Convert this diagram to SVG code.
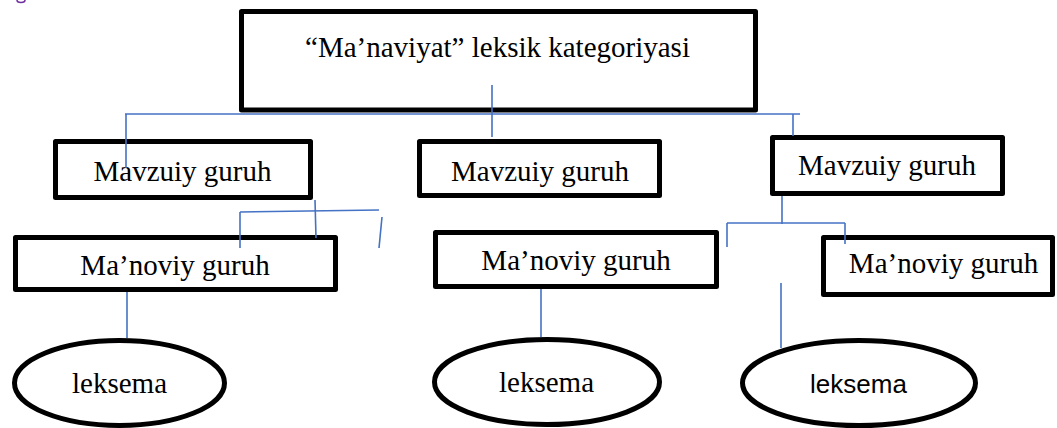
<svg xmlns="http://www.w3.org/2000/svg" width="1057" height="428" viewBox="0 0 1057 428">
<style>
.box{fill:#fff;stroke:#000;stroke-width:5;stroke-linejoin:round}
.t{font-family:"Liberation Serif","Times New Roman",serif;font-size:29px;fill:#000;text-anchor:middle}
.ts{font-family:"Liberation Sans",Arial,sans-serif;font-size:26px;fill:#000;text-anchor:middle}
.c line{stroke:#4472C4;stroke-width:1.6;fill:none}
</style>
<rect x="0" y="0" width="1057" height="428" fill="#fff"/>
<ellipse cx="21" cy="0" rx="4" ry="2.5" fill="none" stroke="#7030A0" stroke-width="1.6"/>
<g id="root"><rect class="box" x="241.5" y="11.5" width="514" height="98.5"/><text class="t" x="497.5" y="57">“Ma’naviyat” leksik kategoriyasi</text></g>
<g id="mavzuiy1"><rect class="box" x="55.5" y="141.5" width="255" height="56"/><text class="t" x="182.5" y="181">Mavzuiy guruh</text></g>
<g id="mavzuiy2"><rect class="box" x="419.5" y="141.5" width="240" height="54"/><text class="t" x="540" y="181">Mavzuiy guruh</text></g>
<g id="mavzuiy3"><rect class="box" x="772.5" y="137.5" width="230" height="56"/><text class="t" x="887" y="175">Mavzuiy guruh</text></g>
<g id="manoviy1"><rect class="box" x="15.5" y="237.5" width="320" height="52"/><text class="t" x="175" y="275">Ma’noviy guruh</text></g>
<g id="manoviy2"><rect class="box" x="435.5" y="232.5" width="281" height="54"/><text class="t" x="576" y="270">Ma’noviy guruh</text></g>
<g id="manoviy3"><rect class="box" x="823.5" y="237.5" width="229" height="57"/><text class="t" x="943.5" y="273">Ma’noviy guruh</text></g>
<g id="leksema1"><ellipse class="box" cx="119.5" cy="383" rx="105" ry="42.5"/><text class="t" x="119.5" y="393">leksema</text></g>
<g id="leksema2"><ellipse class="box" cx="547" cy="382" rx="112.5" ry="42.5"/><text class="t" x="546.5" y="392">leksema</text></g>
<g id="leksema3"><ellipse class="box" cx="859" cy="383" rx="116.5" ry="42.5"/><text class="ts" x="858.5" y="393">leksema</text></g>
<g id="connectors" class="c">
<line x1="125" y1="114" x2="800" y2="114"/>
<line x1="126" y1="114" x2="126" y2="168"/>
<line x1="492" y1="85" x2="492" y2="137"/>
<line x1="793" y1="114" x2="793" y2="136"/>
<line x1="315" y1="200" x2="316" y2="238"/>
<line x1="240" y1="212" x2="379" y2="210"/>
<line x1="240" y1="212" x2="240" y2="248"/>
<line x1="382" y1="217" x2="379" y2="248"/>
<line x1="782" y1="196" x2="782" y2="224"/>
<line x1="727" y1="223" x2="845" y2="223"/>
<line x1="727" y1="223" x2="727" y2="247"/>
<line x1="845" y1="223" x2="845" y2="244"/>
<line x1="781" y1="283" x2="781" y2="348"/>
<line x1="127" y1="292" x2="127" y2="338"/>
<line x1="541" y1="289" x2="541" y2="337"/>
</g>
</svg>
